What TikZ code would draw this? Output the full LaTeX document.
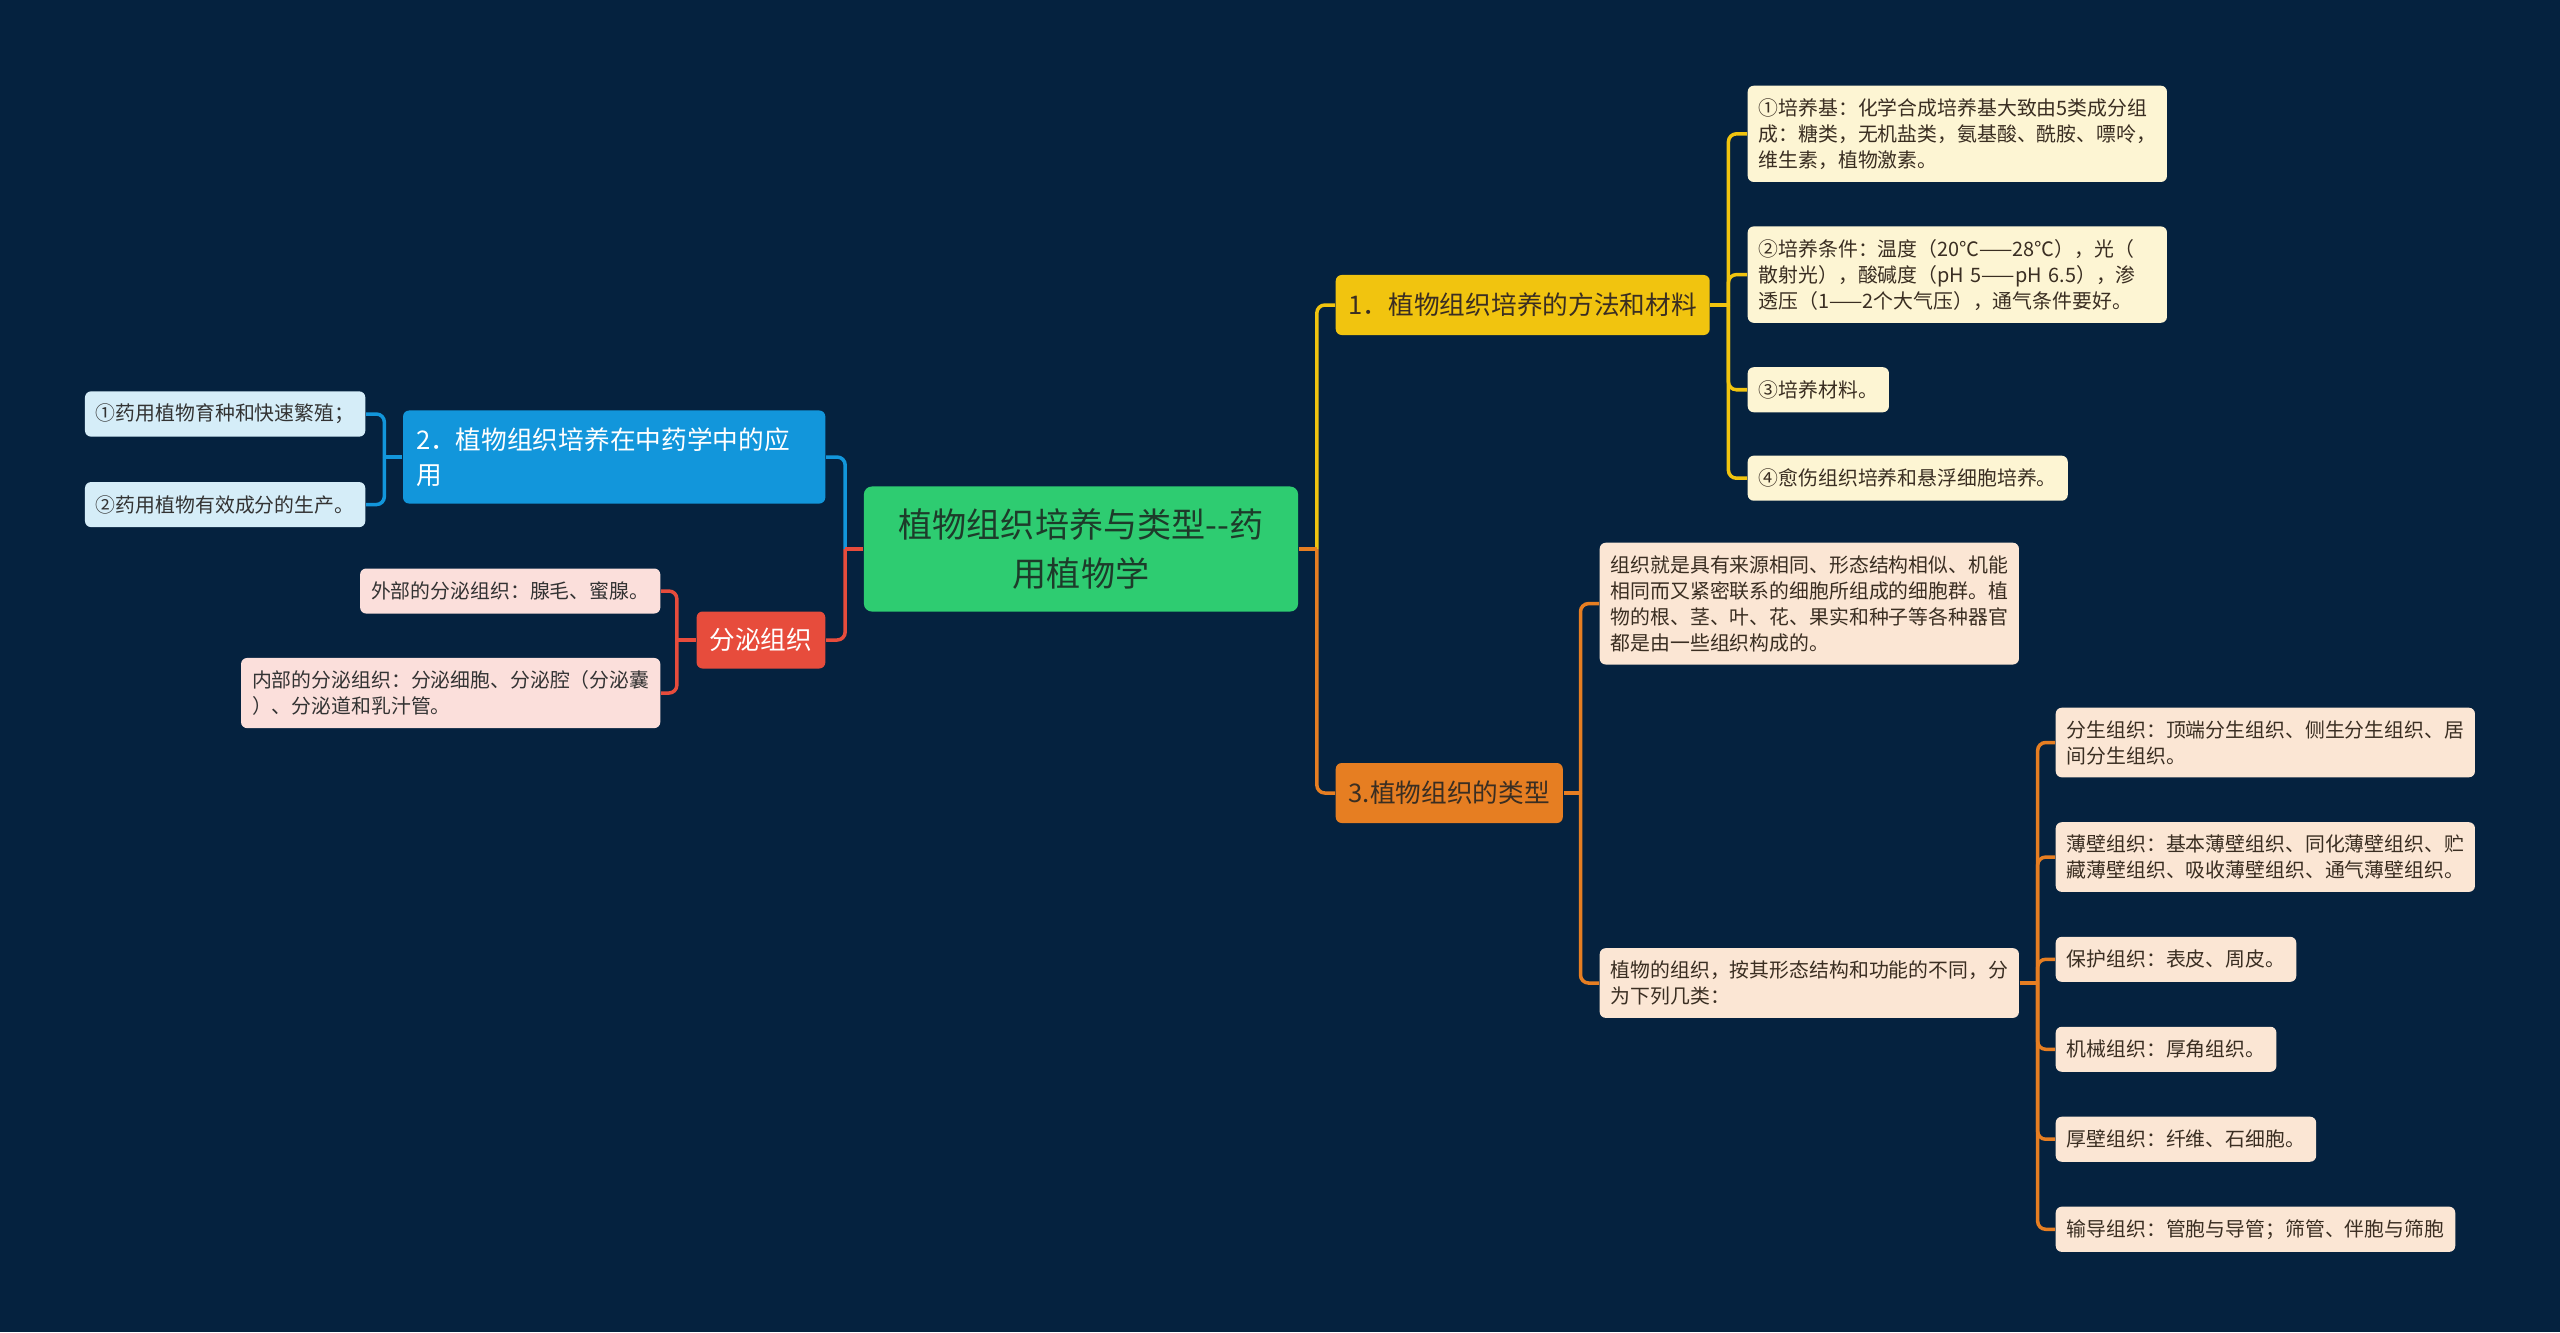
\documentclass[tikz,border=0pt]{standalone}
\usepackage{fontspec}
\setmainfont{Noto Sans CJK SC}
\usetikzlibrary{positioning, calc}
\definecolor{mapBg}{HTML}{05223F}
\definecolor{rootGreen}{HTML}{2ECC71}
\definecolor{rootText}{HTML}{1D3B2A}
\definecolor{brYellow}{HTML}{F1C40F}
\definecolor{brOrange}{HTML}{E67E22}
\definecolor{brBlue}{HTML}{1296DB}
\definecolor{brRed}{HTML}{E74C3C}
\definecolor{lfYellow}{HTML}{FDF5D3}
\definecolor{lfPeach}{HTML}{FBE6D4}
\definecolor{lfBlue}{HTML}{D5EDF8}
\definecolor{lfPink}{HTML}{FBDFDB}
\definecolor{textDark}{HTML}{3A2E22}

\begin{document}
\begin{tikzpicture}[x=0.01cm, y=-0.01cm,
    topic/.style={rectangle, rounded corners=0.08cm, fill=rootGreen,
      text=rootText, font=\fontsize{9.7}{13.7}\selectfont, align=center,
      minimum width=4.34cm, minimum height=1.25cm, inner sep=0pt},
    branch/.style={rectangle, rounded corners=0.06cm,
      inner xsep=0.13cm, inner ysep=0.1cm, minimum height=0.6cm,
      font=\fontsize{7.3}{10}\selectfont, align=left, text=textDark},
    leaf/.style={rectangle, rounded corners=0.06cm,
      inner xsep=0.11cm, inner ysep=0.126cm, minimum height=0.45cm,
      font=\fontsize{5.65}{7.4}\selectfont, align=left, text=textDark},
    wide/.style={text width=3.97cm},
    link/.style={line width=0.035cm, rounded corners=0.08cm},
    node distance=0.43cm
  ]
  \fill[mapBg] (0,0) rectangle (2560,1332);

  \node[topic] (root) at (1081,549) {植物组织培养与类型-{}-药\\用植物学};

  % right side
  \node[branch, fill=brYellow, anchor=west] (n1) at (1335,305)
    {1．植物组织培养的方法和材料};
  \node[branch, fill=brOrange, anchor=west] (n3) at (1335,793)
    {3.植物组织的类型};

  \node[leaf, wide, fill=lfYellow, anchor=north west] (m1) at (1747,85)
    {①培养基：化学合成培养基大致由5类成分组\\成：糖类，无机盐类，氨基酸、酰胺、嘌呤，\\维生素，植物激素。};
  \node[leaf, wide, fill=lfYellow, below=of m1.south west, anchor=north west] (m2)
    {②培养条件：温度（20℃——28℃），光（\\散射光），酸碱度（pH 5——pH 6.5），渗\\透压（1——2个大气压），通气条件要好。};
  \node[leaf, fill=lfYellow, below=of m2.south west, anchor=north west] (m3)
    {③培养材料。};
  \node[leaf, fill=lfYellow, below=0.42cm of m3.south west, anchor=north west] (m4)
    {④愈伤组织培养和悬浮细胞培养。};

  \node[leaf, wide, fill=lfPeach, anchor=north west] (t1) at (1599,542)
    {组织就是具有来源相同、形态结构相似、机能\\相同而又紧密联系的细胞所组成的细胞群。植\\物的根、茎、叶、花、果实和种子等各种器官\\都是由一些组织构成的。};
  \node[leaf, wide, fill=lfPeach, anchor=west] (t2) at (1599,983)
    {植物的组织，按其形态结构和功能的不同，分\\为下列几类：};

  \node[leaf, wide, fill=lfPeach, anchor=north west] (k1) at (2055,707)
    {分生组织：顶端分生组织、侧生分生组织、居\\间分生组织。};
  \node[leaf, wide, fill=lfPeach, below=0.435cm of k1.south west, anchor=north west] (k2)
    {薄壁组织：基本薄壁组织、同化薄壁组织、贮\\藏薄壁组织、吸收薄壁组织、通气薄壁组织。};
  \node[leaf, fill=lfPeach, below=0.435cm of k2.south west, anchor=north west] (k3)
    {保护组织：表皮、周皮。};
  \node[leaf, fill=lfPeach, below=0.435cm of k3.south west, anchor=north west] (k4)
    {机械组织：厚角组织。};
  \node[leaf, fill=lfPeach, below=0.435cm of k4.south west, anchor=north west] (k5)
    {厚壁组织：纤维、石细胞。};
  \node[leaf, fill=lfPeach, below=0.435cm of k5.south west, anchor=north west] (k6)
    {输导组织：管胞与导管；筛管、伴胞与筛胞};

  % left side
  \node[branch, fill=brBlue, text=white, text width=3.96cm,
    minimum height=0.93cm, anchor=east] (n2) at (826,457)
    {2．植物组织培养在中药学中的应\\用};
  \node[branch, fill=brRed, text=white, minimum height=0.57cm,
    minimum width=1.27cm, align=center, anchor=east] (fm) at (826,640)
    {分泌组织};

  \node[leaf, fill=lfBlue, text=black!80, anchor=east] (u1) at (366,414)
    {①药用植物育种和快速繁殖；};
  \node[leaf, fill=lfBlue, text=black!80, below=0.44cm of u1.south east,
    anchor=north east] (u2) {②药用植物有效成分的生产。};

  \node[leaf, fill=lfPink, text=black!80, anchor=east] (s1) at (661,591)
    {外部的分泌组织：腺毛、蜜腺。};
  \node[leaf, wide, fill=lfPink, text=black!80, below=of s1.south east,
    anchor=north east] (s2)
    {内部的分泌组织：分泌细胞、分泌腔（分泌囊\\）、分泌道和乳汁管。};

  % connectors
  \coordinate (rj) at ($(root.east)+(18,0)$);
  \coordinate (lj) at ($(root.west)+(-18,0)$);
  \coordinate (j1) at ($(n1.east)+(18,0)$);
  \coordinate (j3) at ($(n3.east)+(17,0)$);
  \coordinate (jt) at ($(t2.east)+(18,0)$);
  \coordinate (j2) at ($(n2.west)+(-18,0)$);
  \coordinate (jf) at ($(fm.west)+(-19,0)$);

  \draw[link, brYellow] (rj) |- (n1.west);
  \draw[link, brOrange] (rj) |- (n3.west);
  \draw[link, brOrange] (root.east) -- (rj);
  \draw[link, brBlue] (lj) |- (n2.east);
  \draw[link, brRed] (lj) |- (fm.east);
  \draw[link, brRed] (root.west) -- (lj);

  \draw[link, brYellow] (n1.east) -- (j1);
  \foreach \m in {m1,m2,m3,m4}
    \draw[link, brYellow] (j1) |- (\m.west);
  \draw[link, brOrange] (n3.east) -- (j3);
  \foreach \m in {t1,t2}
    \draw[link, brOrange] (j3) |- (\m.west);
  \draw[link, brOrange] (t2.east) -- (jt);
  \foreach \m in {k1,k2,k3,k4,k5,k6}
    \draw[link, brOrange] (jt) |- (\m.west);
  \draw[link, brBlue] (n2.west) -- (j2);
  \foreach \m in {u1,u2}
    \draw[link, brBlue] (j2) |- (\m.east);
  \draw[link, brRed] (fm.west) -- (jf);
  \foreach \m in {s1,s2}
    \draw[link, brRed] (jf) |- (\m.east);
\end{tikzpicture}
\end{document}
